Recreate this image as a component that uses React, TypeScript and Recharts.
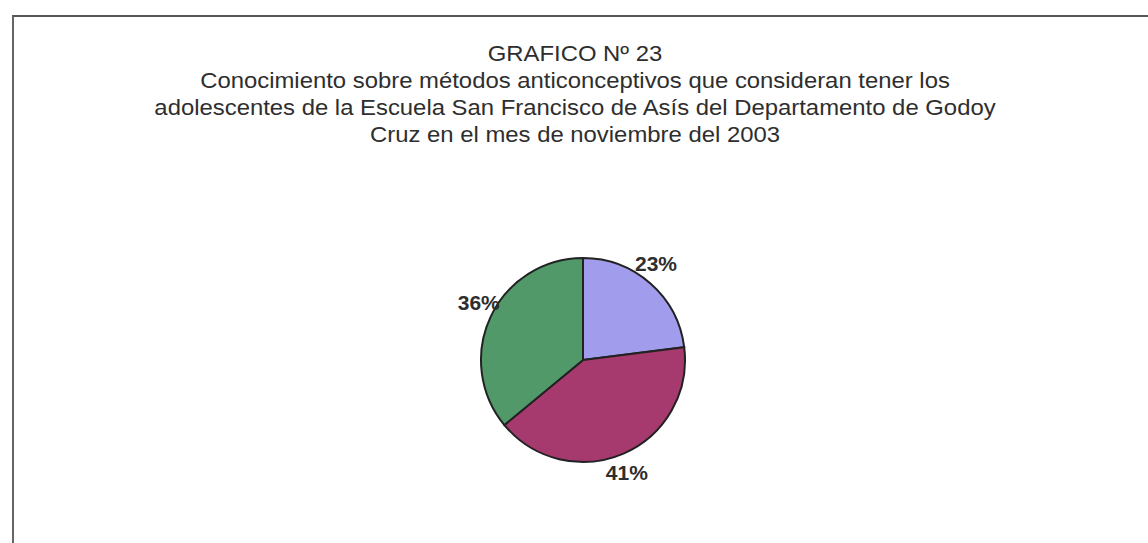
import { PieChart, Pie, Cell } from 'recharts';

const categories = ['A', 'B', 'C'];
const values = [23, 41, 36];
const colors = ['#a29cec', '#a63a6e', '#52996a'];

const data = categories.map((name, i) => ({ name, value: values[i] }));

const RADIAN = Math.PI / 180;

// percent label placed just outside the rim
const renderLabel = (props: any) => {
  const { cx, cy, midAngle, outerRadius, value } = props;
  const r = outerRadius + 18;
  const cos = Math.cos(-midAngle * RADIAN);
  const sin = Math.sin(-midAngle * RADIAN);
  const x = cx + r * cos * (cos > 0 ? 0.92 : 0.96);
  const y = cy + r * sin - (sin < 0 ? 6 : -2);
  return (
    <text
      x={x}
      y={y}
      textAnchor="middle"
      dominantBaseline="central"
      fill="#2e2e2e"
      fontSize={21}
      fontWeight="bold"
      fontFamily="'Liberation Sans', Arial, sans-serif"
    >
      {`${value}%`}
    </text>
  );
};

export default function App() {
  return (
    <div
      style={{
        position: 'absolute',
        left: 0,
        top: 0,
        width: 1148,
        height: 543,
        overflow: 'hidden',
        background: '#fff',
      }}
    >
      <div
        style={{
          position: 'absolute',
          left: 12,
          top: 15,
          width: 1200,
          height: 600,
          borderTop: '2px solid #555',
          borderLeft: '2px solid #666',
        }}
      />
      <div
        style={{
          position: 'absolute',
          left: 0,
          top: 40,
          width: 1150,
          textAlign: 'center',
          fontFamily: "'Liberation Sans', Arial, sans-serif",
          fontSize: 22,
          lineHeight: '27px',
          color: '#2e2e2e',
          transform: 'scaleX(1.085)',
          transformOrigin: '575px 0',
        }}
      >
        <div>GRAFICO Nº 23</div>
        <div>Conocimiento sobre métodos anticonceptivos que consideran tener los</div>
        <div>adolescentes de la Escuela San Francisco de Asís del Departamento de Godoy</div>
        <div>Cruz en el mes de noviembre del 2003</div>
      </div>
      <div style={{ position: 'absolute', left: 378, top: 155 }}>
        <PieChart width={400} height={400}>
          <Pie
            data={data}
            dataKey="value"
            cx={200}
            cy={200}
            outerRadius={102}
            startAngle={90}
            endAngle={-270}
            stroke="#222"
            strokeWidth={2}
            label={renderLabel}
            labelLine={false}
            isAnimationActive={false}
          >
            {data.map((entry, index) => (
              <Cell key={`cell-${index}`} fill={colors[index]} />
            ))}
          </Pie>
        </PieChart>
      </div>
    </div>
  );
}
